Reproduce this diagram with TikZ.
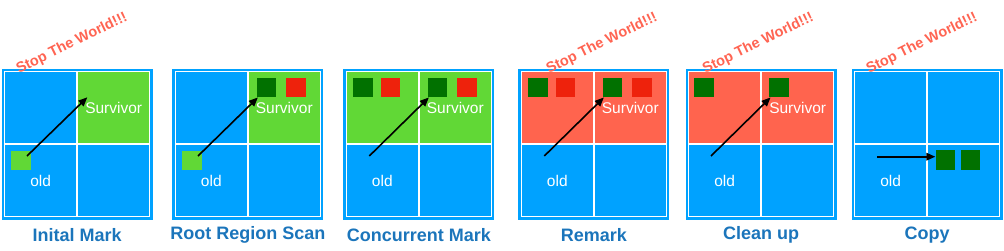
\documentclass[tikz,border=0pt]{standalone}
\usepackage{fontspec}
\setmainfont{Liberation Sans}
\usetikzlibrary{arrows.meta}
\definecolor{region}{HTML}{00A2FF}
\definecolor{young}{HTML}{61D836}
\definecolor{live}{HTML}{017100}
\definecolor{garbage}{HTML}{EE220C}
\definecolor{marked}{HTML}{FF644E}
\definecolor{caption}{HTML}{1B75BB}
\definecolor{stw}{HTML}{FF6452}

\begin{document}
\begin{tikzpicture}[x=1pt, y=-1pt,
  heap/.style={draw=region, line width=2.4pt, fill=white, minimum size=148.6pt, inner sep=0pt},
  cell/.style={minimum size=71.5pt, inner sep=0pt, text=white,
               font=\fontsize{15.5}{16}\selectfont},
  obj/.style={minimum size=19.5pt, inner sep=0pt},
  phase/.style={text=caption, font=\fontsize{18}{20}\selectfont\bfseries},
  halt/.style={text=stw, rotate=26, inner sep=0pt, font=\fontsize{14.5}{15}\selectfont\bfseries},
  arr/.style={-{Triangle[length=9pt,width=7.5pt]}, line width=1.6pt}
]
\useasboundingbox (0,0) rectangle (1004,250);

% six heaps, one per phase
\foreach \L/\tl/\tr/\sv/\ttl/\n in {
    1.7/region/young/Survivor/Inital Mark/1,
    172.3/region/young/Survivor/Root Region Scan/2,
    343.3/young/young/Survivor/Concurrent Mark/3,
    518.3/marked/marked/Survivor/Remark/4,
    685.7/marked/marked/Survivor/Clean up/5,
    851.7/region/region/{}/Copy/6}{
  \node[heap] (heap\n) at (\L+75.5,144) {};
  \node[cell, fill=\tl] (tl\n) at (\L+39,107.5) {};
  \node[cell, fill=\tr] (tr\n) at (\L+112,107.5) {\sv};
  \node[cell, fill=region] (bl\n) at (\L+39,180.5) {old};
  \node[cell, fill=region] (br\n) at (\L+112,180.5) {};
  \node[phase] (phase\n) at (\L+75.5,235) {\ttl};
}

\node[halt] (halt1) at (72,43.5) {Stop The World!!!};
\node[halt] (halt4) at (602,43.5) {Stop The World!!!};
\node[halt] (halt5) at (758.3,43.5) {Stop The World!!!};
\node[halt] (halt6) at (922,43.5) {Stop The World!!!};

% objects
\node[obj, fill=young] (y1) at (21.2,160.5) {};
\node[obj, fill=young] (y2) at (191.8,160.5) {};
\node[obj, fill=live] (live2) at (266.3,87.5) {};
\node[obj, fill=garbage] (dead2) at (295.8,87.5) {};
\node[obj, fill=live] (l3) at (362.8,87.5) {};
\node[obj, fill=garbage] (d3) at (390.3,87.5) {};
\node[obj, fill=live] (live3) at (437.3,87.5) {};
\node[obj, fill=garbage] (dead3) at (466.8,87.5) {};
\node[obj, fill=live] (l4) at (537.8,87.5) {};
\node[obj, fill=garbage] (d4) at (565.3,87.5) {};
\node[obj, fill=live] (live4) at (612.3,87.5) {};
\node[obj, fill=garbage] (dead4) at (641.8,87.5) {};
\node[obj, fill=live] (l5) at (704,87.5) {};
\node[obj, fill=live] (live5) at (779,87.5) {};
\node[obj, fill=live] (live6) at (945.3,160) {};
\node[obj, fill=live] (copy6) at (970.5,160) {};

% references
\coordinate (a1) at (27,156);
\coordinate (b1) at (87.3,97.3);
\coordinate (a2) at (198,156);
\coordinate (a3) at (369.3,156);
\coordinate (a4) at (544.3,156);
\coordinate (a5) at (711,156);
\coordinate (a6) at (877.3,156.7);
\draw[arr] (a1) -- (b1);
\draw[arr] (a2) -- ([xshift=1.5pt]live2.south west);
\draw[arr] (a3) -- ([xshift=1.5pt]live3.south west);
\draw[arr] (a4) -- ([xshift=1.5pt]live4.south west);
\draw[arr] (a5) -- ([xshift=1.5pt]live5.south west);
\draw[arr] (a6) -- (a6 -| live6.west);
\end{tikzpicture}
\end{document}
